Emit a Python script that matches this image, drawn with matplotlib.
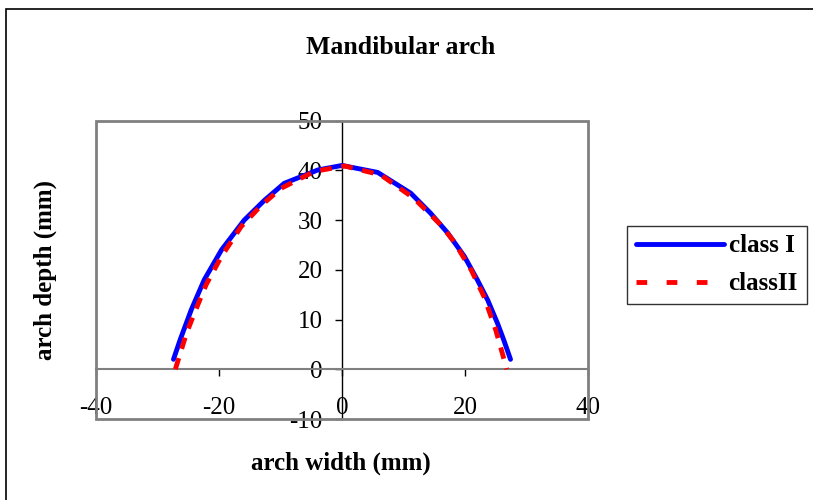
import matplotlib.pyplot as plt
from matplotlib.patches import Rectangle
from matplotlib.lines import Line2D

plt.rcParams['font.family'] = ['Liberation Serif', 'DejaVu Serif']
plt.rcParams['axes.unicode_minus'] = False

# arch form coordinates (mm)
class1_x = [-27.4, -26.3, -24.5, -22.4, -19.6, -15.9, -12.6, -9.4, -3.9, 0.0,
            5.8, 11.2, 14.4, 17.2, 19.9, 22.0, 23.7, 25.3, 26.3, 27.4]
class1_y = [2.0, 6.0, 12.0, 18.0, 24.0, 30.0, 34.0, 37.4, 40.1, 41.0,
            39.6, 35.4, 31.4, 27.4, 22.7, 18.0, 13.9, 9.2, 5.9, 2.0]

class2_x = [-27.1, -25.3, -24.0, -22.1, -19.6, -16.4, -13.1, -9.9, -4.5, 0.4,
            6.3, 11.7, 16.1, 18.2, 21.0, 23.1, 25.0, 26.8]
class2_y = [0.0, 7.2, 11.3, 17.0, 22.7, 28.7, 33.0, 36.4, 39.8, 40.9,
            39.1, 34.4, 29.0, 25.7, 20.0, 14.6, 7.9, 0.0]

xticks = [-40, -20, 0, 20, 40]
yticks = [-10, 0, 10, 20, 30, 40, 50]

fig = plt.figure(figsize=(8.13, 5.0), dpi=100)
# outer chart border
fig.add_artist(Rectangle((6 / 813, -0.05), 1.2, (1 - 9 / 500) + 0.05,
                         transform=fig.transFigure, fill=False,
                         edgecolor='black', lw=1.2))

ax = fig.add_axes([96 / 813, 81 / 500, 492 / 813, 298.3 / 500])
ax.plot(class1_x, class1_y, color='blue', lw=3.5,
        solid_capstyle='round', solid_joinstyle='round', zorder=3)
ax.plot(class2_x, class2_y, color='red', lw=3.5, ls=(0, (2.4, 2.0)), zorder=4)

ax.set_xlim(-40, 40)
ax.set_ylim(-10, 50)
ax.set_xticks(xticks)
ax.set_yticks(yticks)

for s in ['top', 'right']:
    ax.spines[s].set_visible(False)
ax.spines['bottom'].set_position(('data', 0))
ax.spines['left'].set_position(('data', 0))
ax.spines['bottom'].set_color('#808080')
ax.spines['bottom'].set_linewidth(1.5)
ax.spines['left'].set_color('black')
ax.spines['left'].set_linewidth(1.0)

ax.add_patch(Rectangle((0, 0), 1, 1, transform=ax.transAxes, fill=False,
                       edgecolor='#808080', lw=2, clip_on=False, zorder=5))

ax.tick_params(axis='x', direction='out', length=5, width=1, color='black',
               labelsize=18, pad=15)
ax.tick_params(axis='y', direction='out', length=5, width=1, color='black',
               labelsize=18, pad=9)

fig.text(401 / 813, 1 - 48 / 500, 'Mandibular arch', ha='center', va='center',
         fontsize=18.5, fontweight='bold')
fig.text(341 / 813, 1 - 463 / 500, 'arch width (mm)', ha='center', va='center',
         fontsize=18, fontweight='bold')
fig.text(45 / 813, 1 - 270 / 500, 'arch depth (mm)', ha='center', va='center',
         rotation=90, fontsize=18, fontweight='bold')

handles = [Line2D([], [], color='blue', lw=3.5, solid_capstyle='round'),
           Line2D([], [], color='red', lw=3.5, ls=(0, (2.2, 4.0)))]
leg = fig.legend(handles, ['class I', 'classII'], loc='center',
                 bbox_to_anchor=(717 / 813, 1 - 265 / 500),
                 frameon=True, fancybox=False, edgecolor='black',
                 prop={'size': 18, 'weight': 'bold'}, handlelength=3.5,
                 handletextpad=0.2, borderpad=0.35, labelspacing=0.6,
                 borderaxespad=0)
leg.get_frame().set_linewidth(1.0)

fig.savefig('out.png', dpi=100)
